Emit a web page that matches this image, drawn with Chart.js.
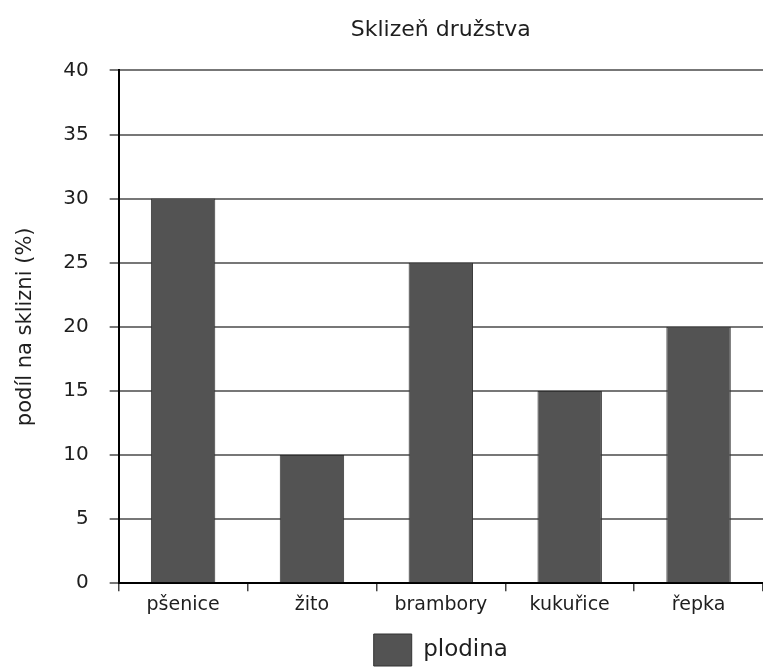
<!DOCTYPE html>
<html>
<head>
<meta charset="utf-8">
<script src="https://cdn.jsdelivr.net/npm/chart.js@4"></script>
<style>
  body { margin: 0; background: #fff; overflow: hidden; }
  #wrap { width: 763px; height: 667px; }
</style>
</head>
<body>
<div id="wrap"><canvas id="myChart"></canvas></div>
<script>
var categories = ['pšenice', 'žito', 'brambory', 'kukuřice', 'řepka'];
var values = [30, 10, 25, 15, 20];
var seriesName = 'plodina';
var yTicks = { min: 0, max: 40, step: 5 };
var textColor = '#1e1e1e';
var fontFamily = 'DejaVu Sans';

var ctx = document.getElementById('myChart');

new Chart(ctx, {
    type: 'bar',
    data: {
        labels: categories,
        datasets: [{
            label: seriesName,
            data: values,
            backgroundColor: '#535353',
            borderColor: '#333',
            borderWidth: 1,
            barPercentage: 0.5,
            categoryPercentage: 1
        }]
    },
    options: {
        responsive: true,
        maintainAspectRatio: false,
        animation: false,
        layout: { padding: { top: 0, right: 0, left: 0, bottom: -9 } },
        scales: {
            y: {
                min: yTicks.min,
                max: yTicks.max,
                ticks: { stepSize: yTicks.step, color: textColor, padding: 21, font: { family: fontFamily, size: 20 } },
                grid: { color: '#777', lineWidth: 2, tickLength: 9 },
                border: { color: '#000', width: 2 },
                title: {
                    display: true,
                    text: 'podíl na sklizni (%)',
                    color: textColor,
                    font: { family: fontFamily, size: 21 },
                    padding: { top: 13, bottom: 4 }
                }
            },
            x: {
                ticks: { color: textColor, padding: 2, font: { family: fontFamily, size: 19 } },
                grid: { drawOnChartArea: false, color: '#444', lineWidth: 1.5, tickLength: 8 },
                border: { color: '#000', width: 2 }
            }
        },
        plugins: {
            title: {
                display: true,
                fullSize: false,
                text: 'Sklizeň družstva',
                color: textColor,
                font: { family: fontFamily, size: 22, weight: 'normal' },
                padding: { top: 17, bottom: 27 }
            },
            legend: {
                position: 'bottom',
                fullSize: false,
                labels: {
                    color: textColor,
                    boxWidth: 38,
                    boxHeight: 32,
                    padding: 16,
                    font: { family: fontFamily, size: 23 }
                }
            },
            tooltip: { enabled: false }
        }
    }
});
</script>
</body>
</html>
